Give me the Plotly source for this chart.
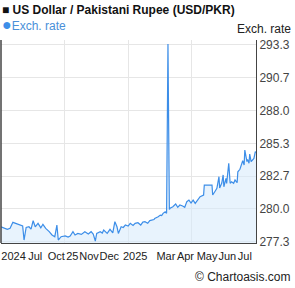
import plotly.graph_objects as go

dates = [
    "2024-07-02", "2024-07-06", "2024-07-11", "2024-07-15", "2024-07-19", "2024-07-23", "2024-07-29",
    "2024-08-02", "2024-08-04", "2024-08-07", "2024-08-11", "2024-08-14", "2024-08-17", "2024-08-20",
    "2024-08-24", "2024-08-28", "2024-08-31", "2024-09-04", "2024-09-09", "2024-09-13", "2024-09-17",
    "2024-09-20", "2024-09-22", "2024-09-26", "2024-10-02", "2024-10-06", "2024-10-09", "2024-10-13",
    "2024-10-16", "2024-10-20", "2024-10-25", "2024-10-30", "2024-11-04", "2024-11-08", "2024-11-11",
    "2024-11-14", "2024-11-16", "2024-11-21", "2024-11-24", "2024-11-26", "2024-12-01", "2024-12-05",
    "2024-12-09", "2024-12-12", "2024-12-15", "2024-12-17", "2024-12-21", "2024-12-24", "2024-12-27",
    "2024-12-31", "2025-01-03", "2025-01-07", "2025-01-10", "2025-01-14", "2025-01-18", "2025-01-21",
    "2025-01-24", "2025-01-28", "2025-01-31", "2025-02-03", "2025-02-06", "2025-02-07", "2025-02-10",
    "2025-02-12", "2025-02-15", "2025-02-17", "2025-02-19", "2025-02-22", "2025-02-24", "2025-02-26",
    "2025-02-28", "2025-03-01", "2025-03-05", "2025-03-09", "2025-03-12", "2025-03-15", "2025-03-19",
    "2025-03-22", "2025-03-25", "2025-03-28", "2025-03-31", "2025-04-03", "2025-04-06", "2025-04-09",
    "2025-04-13", "2025-04-18", "2025-04-19", "2025-04-30", "2025-05-01", "2025-05-04", "2025-05-07",
    "2025-05-10", "2025-05-11", "2025-05-14", "2025-05-16", "2025-05-17", "2025-05-20", "2025-05-21",
    "2025-05-24", "2025-05-26", "2025-05-28", "2025-05-31", "2025-06-02", "2025-06-05", "2025-06-06",
    "2025-06-09", "2025-06-12", "2025-06-13", "2025-06-15", "2025-06-16", "2025-06-19", "2025-06-20",
    "2025-06-22", "2025-06-23", "2025-06-25", "2025-06-27", "2025-06-29", "2025-06-30", "2025-07-01",
    "2025-07-02",
]

rates = [
    278.55, 278.44, 278.34, 278.42, 278.91, 278.83, 278.69,
    278.61, 277.47, 278.50, 278.55, 278.36, 279.04, 278.55,
    278.83, 278.47, 278.75, 278.42, 278.15, 277.88, 277.74,
    278.69, 277.47, 277.74, 277.80, 277.71, 277.80, 278.15,
    277.88, 278.01, 277.93, 278.15, 277.96, 278.15, 277.96,
    277.39, 278.01, 278.15, 278.04, 278.28, 278.01, 278.34,
    278.06, 278.96, 278.55, 278.01, 278.55, 278.49, 278.69,
    278.61, 278.83, 278.65, 278.83, 278.88, 278.69, 278.93,
    278.96, 278.83, 279.05, 279.10, 279.14, 279.23, 279.30,
    279.36, 279.50, 279.46, 279.64, 279.77, 279.64, 293.40,
    279.96, 280.05, 280.18, 280.40, 280.13, 280.32, 280.24,
    280.13, 280.59, 280.72, 280.48, 280.72, 280.45, 280.67,
    280.99, 281.13, 281.94, 281.94, 281.13, 281.40, 281.67,
    282.62, 281.70, 282.10, 282.76, 281.80, 282.49, 282.08,
    283.71, 282.08, 282.21, 282.08, 282.35, 282.14, 283.02,
    283.22, 283.71, 283.92, 283.57, 284.79, 283.84, 284.03,
    283.71, 284.46, 283.84, 283.98, 284.11, 284.38, 284.65,
    284.57,
]

x_label_dates = ["2024-07-20", "2024-08-20", "2024-09-19", "2024-10-12", "2024-11-05", "2024-12-04",
                 "2025-01-10", "2025-02-23", "2025-03-23", "2025-04-23", "2025-05-22", "2025-06-16"]
x_label_text = ["2024", "Jul", "Oct", "25", "Nov", "Dec", "2025", "Mar", "Apr", "May", "Jun", "Jul"]
x_grid_dates = ["2024-10-01", "2025-01-01", "2025-04-01"]

y_tick_vals = [277.333, 280.0, 282.667, 285.333, 288.0, 290.667, 293.333]
y_tick_text = ["277.3", "280.0", "282.7", "285.3", "288.0", "290.7", "293.3"]

LINE = "#3d8ee8"
FONT = "Liberation Sans, Arial, sans-serif"

W, H = 295, 288
ML, MR, MT, MB = 1, 39, 40, 45
plot_w = W - ML - MR
plot_h = H - MT - MB


def px_x(px):
    return (px - ML) / plot_w


def px_y(py):
    return (H - MB - py) / plot_h


fig = go.Figure()
fig.add_trace(go.Scatter(
    x=dates, y=rates, mode="lines",
    line=dict(color=LINE, width=1.2),
    fill="tozeroy", fillcolor="rgba(214,234,252,0.55)",
    hoverinfo="skip", showlegend=False,
))

fig.update_layout(
    width=W, height=H,
    margin=dict(l=ML, r=MR, t=MT, b=MB),
    paper_bgcolor="white", plot_bgcolor="white",
    font=dict(family=FONT, size=12, color="#333333"),
    xaxis=dict(
        type="date",
        range=["2024-07-02", "2025-07-02"],
        tickmode="array", tickvals=x_label_dates, ticktext=x_label_text,
        tickangle=0, ticklabelstandoff=3,
        showgrid=False, ticks="", showline=True, linecolor="#444444", linewidth=1,
        tickfont=dict(family=FONT, size=11, color="#222222"),
        minor=dict(tickmode="array", tickvals=x_grid_dates, showgrid=True,
                   gridcolor="#e6e6e6", gridwidth=1, ticks=""),
        zeroline=False,
    ),
    yaxis=dict(
        side="right",
        range=[277.23, 293.73],
        tickmode="array", tickvals=y_tick_vals, ticktext=y_tick_text,
        showgrid=True, gridcolor="#e6e6e6", gridwidth=1,
        showline=True, linecolor="#444444", linewidth=1, ticks="",
        tickfont=dict(family=FONT, size=12, color="#444444"),
        zeroline=False,
    ),
    shapes=[dict(type="line", xref="paper", yref="paper", x0=0, x1=0, y0=0, y1=1,
                 line=dict(color="#444444", width=1.5))],
    annotations=[
        dict(text="<b>■ US Dollar / Pakistani Rupee (USD/PKR)</b>", x=px_x(0), y=px_y(10),
             xref="paper", yref="paper", xanchor="left", yanchor="middle", showarrow=False,
             font=dict(family=FONT, size=12, color="#111111")),
        dict(text="<span style='color:#3d8ee8;font-size:16px'>●</span>Exch. rate",
             x=px_x(0), y=px_y(24), xref="paper", yref="paper", xanchor="left", yanchor="middle",
             showarrow=False, font=dict(family=FONT, size=12, color="#4a90d9")),
        dict(text="Exch. rate", x=px_x(293), y=px_y(29), xref="paper", yref="paper",
             xanchor="right", yanchor="middle", showarrow=False,
             font=dict(family=FONT, size=12, color="#222222")),
        dict(text="© Chartoasis.com", x=px_x(293), y=px_y(277), xref="paper", yref="paper",
             xanchor="right", yanchor="middle", showarrow=False,
             font=dict(family=FONT, size=12, color="#222222")),
    ],
)

fig.write_html("out.html")
